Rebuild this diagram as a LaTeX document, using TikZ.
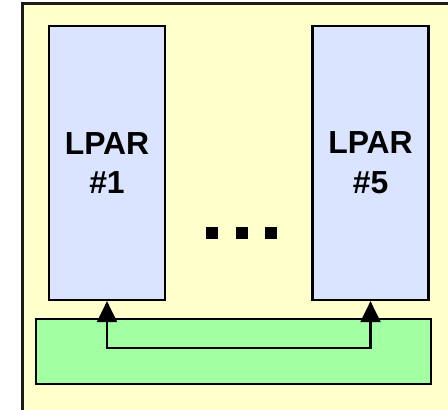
\documentclass[tikz,border=0pt]{standalone}
\usepackage{fontspec}
\setmainfont{Liberation Sans}
\usetikzlibrary{arrows.meta,positioning}
\definecolor{shelf}{HTML}{FFFFCC}
\definecolor{lparfill}{HTML}{DAE4FF}
\definecolor{busfill}{HTML}{A2FFA2}
\definecolor{frame}{HTML}{1A1A1A}
\tikzset{
  link/.style={
    line width=2.2bp,
    {Triangle[length=21bp,width=20bp]}-{Triangle[length=21bp,width=20bp]},
  },
  lparbox/.style={
    draw=black,
    fill=lparfill,
    line width=2.2bp,
    minimum width=116bp,
    minimum height=274bp,
    align=center,
    font=\bfseries\fontsize{32}{40}\selectfont,
  },
  busbox/.style={
    draw=black,
    fill=busfill,
    line width=2.2bp,
    minimum width=395bp,
    minimum height=65bp,
  },
  dotbox/.style={fill=black, minimum size=12bp, inner sep=0pt},
}

\begin{document}
\begin{tikzpicture}[x=1bp,y=1bp]
  \useasboundingbox (0,0) rectangle (448,409);
  \fill[white] (0,0) rectangle (448,409);

  % cabinet
  \draw[frame, fill=shelf, line width=3bp] (22,405) rectangle (454,-6);

  % partitions
  \node[lparbox] (lpar1) at (107,246) {LPAR\\\#1};
  \node[lparbox] (lpar5) at (370.5,246) {LPAR\\\#5};

  % gap between partitions
  \foreach \x [count=\i] in {212,242,271} {
    \node[dotbox] (dot\i) at (\x,176) {};
  }

  % shared link
  \node[busbox] (bus) at (233.5,57.5) {};
  \coordinate (busleft) at (107,61);
  \draw[link] (lpar1.south) -- (busleft) -| (lpar5.south);
\end{tikzpicture}
\end{document}
